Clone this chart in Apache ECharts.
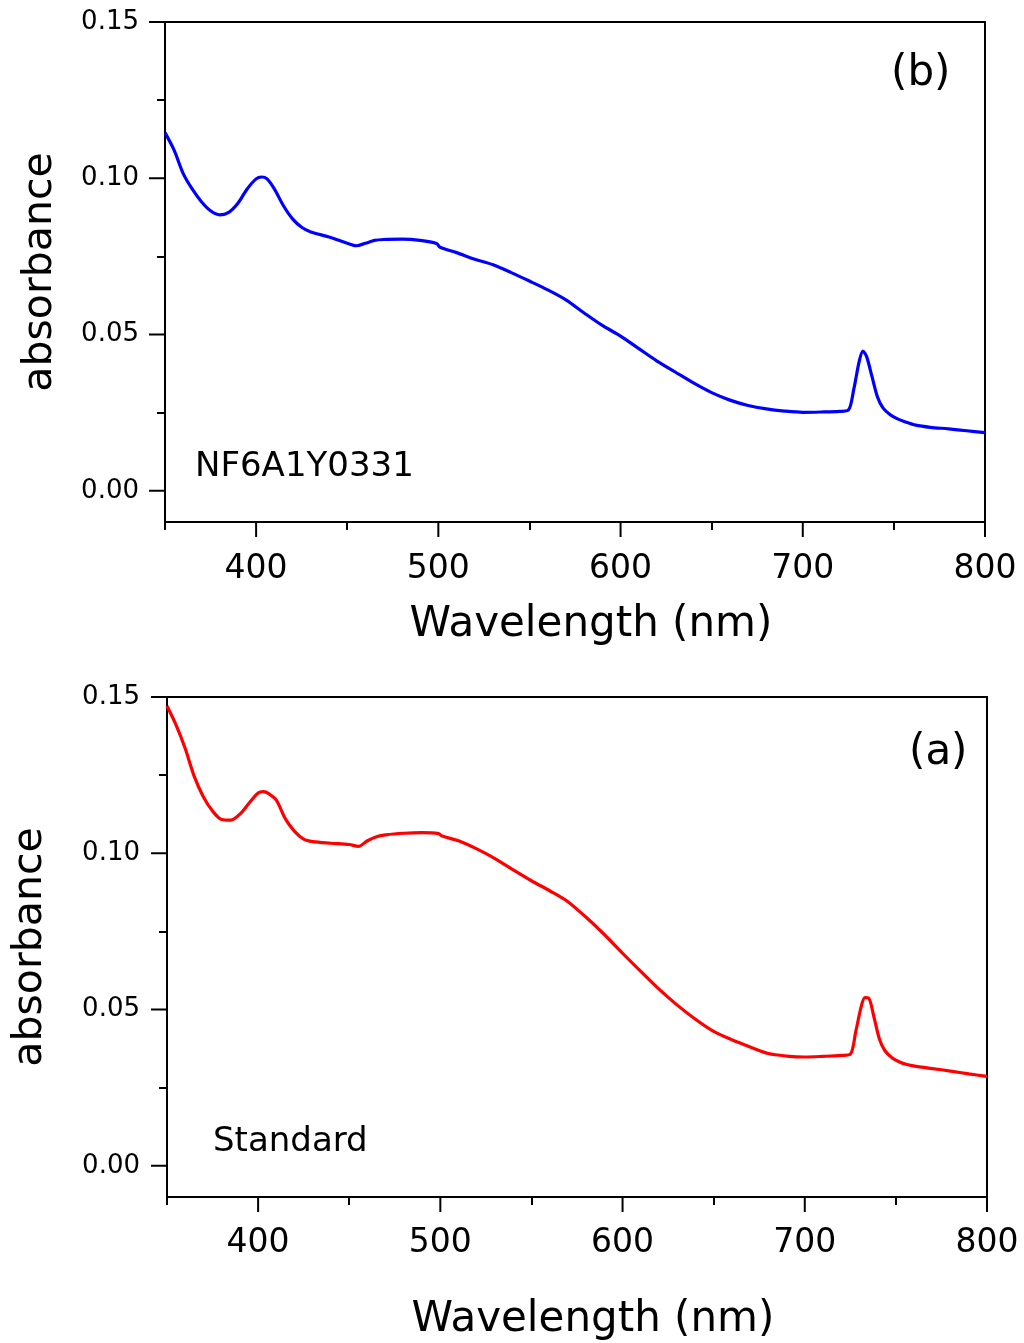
<!DOCTYPE html>
<html>
<head>
<meta charset="utf-8">
<title>Absorbance spectra</title>
<script src="https://cdn.jsdelivr.net/npm/echarts@6/dist/echarts.min.js"></script>
<style>
  html, body { margin: 0; padding: 0; background: #fff; }
  #chart { width: 1024px; height: 1343px; }
</style>
</head>
<body>
<div id="chart"></div>
<script>
// Wavelength grid (nm) shared by both spectra
const wavelengths = [350,355,360,365,370,375,380,385,390,395,400,403,406,410,415,420,425,430,440,450,455,460,465,470,480,490,499,501,510,520,530,540,550,560,570,580,590,600,610,620,630,640,650,660,670,680,690,700,710,720,725,728,731,733,735,738,741,744,748,752,756,762,770,780,790,800];

// Sample NF6A1Y0331, panel (b)
const sampleAbs = [0.1146,0.1090,0.1015,0.0965,0.0925,0.0896,0.0883,0.0891,0.0920,0.0965,0.0998,0.1004,0.0998,0.0966,0.0912,0.0870,0.0843,0.0828,0.0812,0.0792,0.0784,0.0792,0.0801,0.0804,0.0805,0.0801,0.0791,0.0779,0.0762,0.0741,0.0723,0.0698,0.0671,0.0643,0.0611,0.0569,0.0529,0.0495,0.0455,0.0415,0.0380,0.0345,0.0314,0.0290,0.0273,0.0262,0.0255,0.0251,0.0252,0.0254,0.0258,0.0325,0.0415,0.0447,0.0430,0.0365,0.0300,0.0265,0.0243,0.0230,0.0221,0.0210,0.0203,0.0198,0.0192,0.0186];

// Standard, panel (a)
const standardAbs = [0.1471,0.1410,0.1335,0.1245,0.1180,0.1135,0.1108,0.1106,0.1125,0.1160,0.1193,0.1197,0.1190,0.1170,0.1110,0.1070,0.1045,0.1037,0.1032,0.1028,0.1022,0.1040,0.1053,0.1059,0.1064,0.1066,0.1063,0.1055,0.1040,0.1014,0.0983,0.0947,0.0912,0.0880,0.0845,0.0795,0.0740,0.0680,0.0622,0.0565,0.0514,0.0469,0.0430,0.0403,0.0380,0.0359,0.0351,0.0348,0.0350,0.0353,0.0357,0.0430,0.0510,0.0538,0.0537,0.0475,0.0405,0.0368,0.0345,0.0332,0.0324,0.0317,0.0311,0.0303,0.0294,0.0286];

// Tick positions
const xMajorTicks = [400, 500, 600, 700, 800];
const xMinorTicks = [350, 450, 550, 650, 750];
const yMajorTicks = [0, 0.05, 0.10, 0.15];
const yMinorTicks = [0.025, 0.075, 0.125];

const FONT = '"DejaVu Sans", "Liberation Sans", Arial, sans-serif';
const X_MIN = 350, X_MAX = 800, Y_MIN = -0.01, Y_MAX = 0.15;
const TICK_STYLE = { color: '#000', width: 2 };
const MAJOR_X_LEN = 15, MAJOR_Y_LEN = 16, MINOR_LEN = 8;

function pairs(xs, ys) { return xs.map((x, i) => [x, ys[i]]); }

function xMain(g, labelMargin, nameGap) {
  return {
    type: 'value', gridIndex: g, position: 'bottom', min: X_MIN, max: X_MAX,
    axisLine: { show: true, onZero: false, lineStyle: { color: '#000', width: 2 } },
    axisTick: { show: false },
    axisLabel: { show: true, margin: labelMargin, color: '#000', fontFamily: FONT, fontSize: 33, customValues: xMajorTicks },
    splitLine: { show: false },
    name: 'Wavelength (nm)', nameLocation: 'middle', nameGap,
    nameTextStyle: { color: '#000', fontFamily: FONT, fontSize: 42, padding: [0, 0, 0, 32] }
  };
}
function yMain(g, labelMargin, nameGap) {
  return {
    type: 'value', gridIndex: g, position: 'left', min: Y_MIN, max: Y_MAX,
    axisLine: { show: true, onZero: false, lineStyle: { color: '#000', width: 2 } },
    axisTick: { show: false },
    axisLabel: { show: true, margin: labelMargin, color: '#000', fontFamily: FONT, fontSize: 26,
                 customValues: yMajorTicks, formatter: v => Number(v).toFixed(2) },
    splitLine: { show: false },
    name: 'absorbance', nameLocation: 'middle', nameGap, nameRotate: 90,
    nameTextStyle: { color: '#000', fontFamily: FONT, fontSize: 41 }
  };
}
// Minor tick rows
function xMinor(g) {
  return {
    type: 'value', gridIndex: g, position: 'bottom', min: X_MIN, max: X_MAX,
    axisLine: { show: false, onZero: false },
    axisTick: { show: true, length: MINOR_LEN, lineStyle: TICK_STYLE, customValues: xMinorTicks },
    axisLabel: { show: false }, splitLine: { show: false }
  };
}
function yMinor(g) {
  return {
    type: 'value', gridIndex: g, position: 'left', min: Y_MIN, max: Y_MAX,
    axisLine: { show: false, onZero: false },
    axisTick: { show: true, length: MINOR_LEN, lineStyle: TICK_STYLE, customValues: yMinorTicks },
    axisLabel: { show: false }, splitLine: { show: false }
  };
}

// Major tick marks, placed through the cartesian scale of the panel
function majorTicks(axisIdx) {
  const data = xMajorTicks.map(v => ({ value: [v, Y_MIN], dir: 'x' }))
    .concat(yMajorTicks.map(v => ({ value: [X_MIN, v], dir: 'y' })));
  return {
    type: 'custom', xAxisIndex: axisIdx, yAxisIndex: axisIdx, clip: false, z: 10, silent: true,
    data,
    renderItem: (params, api) => {
      const item = data[params.dataIndex];
      const p = api.coord(item.value);
      const shape = item.dir === 'x'
        ? { x1: p[0], y1: p[1], x2: p[0], y2: p[1] + MAJOR_X_LEN }
        : { x1: p[0] - MAJOR_Y_LEN, y1: p[1], x2: p[0], y2: p[1] };
      return { type: 'line', shape, style: { stroke: '#000', lineWidth: 2 } };
    }
  };
}

const chart = echarts.init(document.getElementById('chart'), null, { renderer: 'canvas' });

chart.setOption({
  backgroundColor: '#fff',
  animation: false,
  grid: [
    { left: 165, top: 22, width: 820, height: 500, show: true, borderColor: '#000', borderWidth: 2, backgroundColor: 'transparent' },
    { left: 167, top: 697, width: 820, height: 500, show: true, borderColor: '#000', borderWidth: 2, backgroundColor: 'transparent' }
  ],
  xAxis: [xMain(0, 31, 82), xMinor(0), xMain(1, 30, 102), xMinor(1)],
  yAxis: [yMain(0, 26, 104), yMinor(0), yMain(1, 27, 116), yMinor(1)],
  series: [
    {
      name: 'NF6A1Y0331', type: 'line', xAxisIndex: 0, yAxisIndex: 0,
      data: pairs(wavelengths, sampleAbs), showSymbol: false, smooth: 0.3,
      lineStyle: { color: '#0000ff', width: 3.2 }, itemStyle: { color: '#0000ff' }
    },
    {
      name: 'Standard', type: 'line', xAxisIndex: 2, yAxisIndex: 2,
      data: pairs(wavelengths, standardAbs), showSymbol: false, smooth: 0.3,
      lineStyle: { color: '#ff0000', width: 3.2 }, itemStyle: { color: '#ff0000' }
    },
    majorTicks(0),
    majorTicks(2)
  ],
  graphic: [
    { type: 'text', x: 195, y: 467, style: { text: 'NF6A1Y0331', font: '34px ' + FONT, fill: '#000', textAlign: 'left', textVerticalAlign: 'middle' } },
    { type: 'text', x: 891, y: 74, style: { text: '(b)', font: '42px ' + FONT, fill: '#000', textAlign: 'left', textVerticalAlign: 'middle' } },
    { type: 'text', x: 213, y: 1142, style: { text: 'Standard', font: '34px ' + FONT, fill: '#000', textAlign: 'left', textVerticalAlign: 'middle' } },
    { type: 'text', x: 909, y: 753, style: { text: '(a)', font: '42px ' + FONT, fill: '#000', textAlign: 'left', textVerticalAlign: 'middle' } }
  ]
});
</script>
</body>
</html>
